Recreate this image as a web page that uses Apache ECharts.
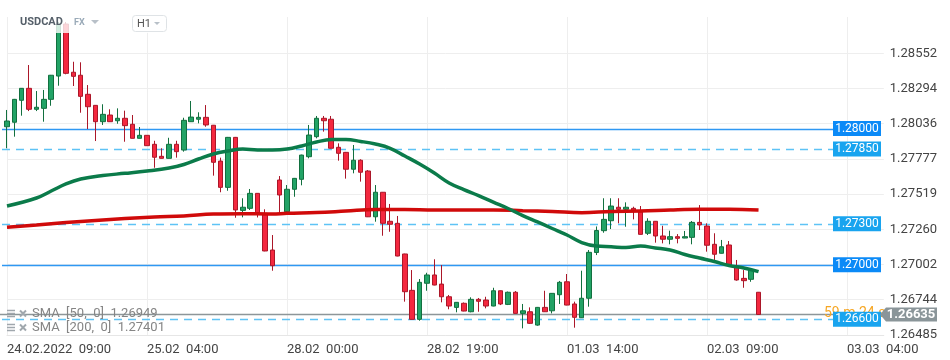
<!DOCTYPE html>
<html><head><meta charset="utf-8">
<script src="https://cdn.jsdelivr.net/npm/echarts@6/dist/echarts.min.js"></script>
<style>html,body{margin:0;padding:0;background:#fff}#c{width:950px;height:360px}</style>
</head><body><div id="c"></div>
<script>
// ---- data ----
const xTickLabels = ['24.02.2022  09:00', '25.02  04:00', '28.02  00:00', '28.02  19:00', '01.03  14:00', '02.03  09:00', '03.03  04:00'];
const candlesPerTick = 19;
const slotCount = 120;
const yTickValues = [1.26485, 1.26744, 1.27002, 1.27260, 1.27519, 1.27777, 1.28036, 1.28294, 1.28552];
// [open, close, low, high]
const candles = [
[1.28013,1.28055,1.27855,1.28136],[1.28046,1.28214,1.27940,1.28217],[1.28207,1.28295,1.28094,1.28297],[1.28295,1.28141,1.28128,1.28466],
[1.28141,1.28156,1.28128,1.28275],[1.28148,1.28214,1.28050,1.28283],[1.28214,1.28391,1.28167,1.28393],[1.28385,1.28767,1.28314,1.28782],
[1.28767,1.28405,1.28398,1.28782],[1.28413,1.28383,1.28312,1.28490],[1.28391,1.28236,1.28116,1.28486],[1.28251,1.28160,1.27996,1.28319],
[1.28170,1.28050,1.27908,1.28172],[1.28050,1.28104,1.28026,1.28178],[1.28099,1.28050,1.28048,1.28141],[1.28057,1.28075,1.28035,1.28148],
[1.28075,1.28021,1.27903,1.28131],[1.28031,1.27928,1.27927,1.28099],[1.27928,1.27950,1.27927,1.28011],[1.27950,1.27874,1.27872,1.27952],
[1.27884,1.27789,1.27712,1.27910],[1.27796,1.27781,1.27780,1.27855],[1.27781,1.27884,1.27780,1.27932],[1.27884,1.27830,1.27786,1.27910],
[1.27842,1.28060,1.27830,1.28079],[1.28050,1.28084,1.28048,1.28202],[1.28068,1.28082,1.28038,1.28119],[1.28082,1.28026,1.28013,1.28172],
[1.28024,1.27752,1.27654,1.28026],[1.27761,1.27568,1.27532,1.27786],[1.27568,1.27935,1.27543,1.27938],[1.27935,1.27402,1.27345,1.27938],
[1.27399,1.27422,1.27348,1.27488],[1.27414,1.27524,1.27402,1.27556],[1.27524,1.27378,1.27347,1.27526],[1.27378,1.27101,1.27099,1.27407],
[1.27108,1.26993,1.26956,1.27218],[1.27622,1.27512,1.27365,1.27651],[1.27389,1.27554,1.27387,1.27585],[1.27554,1.27634,1.27499,1.27637],
[1.27627,1.27805,1.27583,1.27808],[1.27793,1.27952,1.27781,1.28026],[1.27940,1.28075,1.27928,1.28092],[1.28075,1.28057,1.27977,1.28092],
[1.28068,1.27855,1.27853,1.28092],[1.27862,1.27818,1.27764,1.27891],[1.27825,1.27701,1.27632,1.27828],[1.27701,1.27767,1.27671,1.27879],
[1.27767,1.27679,1.27610,1.27774],[1.27688,1.27352,1.27350,1.27695],[1.27352,1.27532,1.27316,1.27585],[1.27532,1.27304,1.27213,1.27534],
[1.27319,1.27297,1.27242,1.27446],[1.27304,1.27064,1.27062,1.27358],[1.27079,1.26802,1.26729,1.27081],[1.26812,1.26599,1.26598,1.26961],
[1.26599,1.26871,1.26589,1.26895],[1.26864,1.26925,1.26809,1.26941],[1.26925,1.26851,1.26849,1.27040],[1.26858,1.26765,1.26724,1.26998],
[1.26765,1.26697,1.26673,1.26778],[1.26687,1.26724,1.26651,1.26726],[1.26717,1.26660,1.26658,1.26723],[1.26655,1.26746,1.26651,1.26761],
[1.26746,1.26732,1.26655,1.26756],[1.26741,1.26697,1.26680,1.26765],[1.26697,1.26809,1.26695,1.26831],[1.26809,1.26712,1.26704,1.26811],
[1.26709,1.26798,1.26704,1.26803],[1.26798,1.26643,1.26642,1.26807],[1.26643,1.26662,1.26533,1.26712],[1.26655,1.26570,1.26565,1.26687],
[1.26557,1.26687,1.26552,1.26690],[1.26687,1.26655,1.26653,1.26809],[1.26662,1.26790,1.26643,1.26792],[1.26780,1.26871,1.26712,1.26881],
[1.26875,1.26704,1.26702,1.26932],[1.26712,1.26614,1.26538,1.26729],[1.26611,1.26754,1.26609,1.26956],[1.26754,1.27091,1.26692,1.27108],
[1.27090,1.27251,1.27071,1.27281],[1.27250,1.27333,1.27235,1.27488],[1.27323,1.27431,1.27262,1.27488],[1.27422,1.27407,1.27304,1.27488],
[1.27407,1.27422,1.27279,1.27458],[1.27414,1.27397,1.27333,1.27426],[1.27389,1.27223,1.27222,1.27431],[1.27231,1.27319,1.27218,1.27341],
[1.27319,1.27211,1.27162,1.27321],[1.27211,1.27187,1.27157,1.27286],[1.27187,1.27206,1.27150,1.27250],[1.27206,1.27194,1.27157,1.27225],
[1.27196,1.27206,1.27195,1.27248],[1.27201,1.27311,1.27150,1.27321],[1.27311,1.27292,1.27255,1.27438],[1.27284,1.27143,1.27096,1.27304],
[1.27150,1.27077,1.27035,1.27231],[1.27084,1.27132,1.27082,1.27182],[1.27145,1.26998,1.26996,1.27174],[1.26986,1.26888,1.26883,1.27035],
[1.26900,1.26883,1.26831,1.26961],[1.26893,1.26961,1.26875,1.26976],[1.26798,1.26635,1.26633,1.26800]
];
// [candle index, value]
const sma50 = [[0,1.27431],[4,1.27490],[6,1.27541],[8,1.27593],[10,1.27629],[13,1.27655],[16,1.27671],[19,1.27688],[22,1.27710],[24,1.27736],
[26,1.27776],[28,1.27813],[30,1.27835],[32,1.27849],[34,1.27842],[36,1.27842],[38,1.27849],[40,1.27872],[42,1.27901],[44,1.27919],[46,1.27919],
[48,1.27905],[50,1.27886],[52,1.27855],[54,1.27798],[56,1.27739],[58,1.27673],[60,1.27600],[62,1.27552],[64,1.27508],[66,1.27460],[68,1.27413],
[70,1.27361],[72,1.27314],[74,1.27266],[76,1.27218],[78,1.27163],[80,1.27137],[82,1.27132],[84,1.27126],[86,1.27137],[88,1.27123],[90,1.27108],
[92,1.27075],[94,1.27049],[96,1.27024],[98,1.26994],[100,1.26976],[102,1.26949]];
const sma200 = [[0,1.27275],[4,1.27292],[8,1.27310],[12,1.27325],[16,1.27339],[20,1.27350],[24,1.27358],[28,1.27372],[32,1.27375],[36,1.27372],
[38,1.27378],[42,1.27383],[46,1.27394],[50,1.27405],[54,1.27405],[58,1.27402],[62,1.27402],[66,1.27402],[70,1.27397],[74,1.27391],[78,1.27382],
[82,1.27391],[86,1.27394],[90,1.27402],[94,1.27407],[98,1.27407],[102,1.27401]];
const levelValues = [1.28000, 1.27850, 1.27300, 1.27000, 1.26600];
const levelDashed = [false, true, true, false, true];
const lastPrice = 1.26635;
const smaLabels = ['SMA  [50,  0]  1.26949', 'SMA  [200,  0]  1.27401'];
const symbolName = 'USDCAD', marketName = 'FX', periodName = 'H1', countdown = '59 m 24 s';

// ---- chart ----
const categories = Array.from({length: slotCount}, (_, i) => String(i));
const chart = echarts.init(document.getElementById('c'), null, {renderer: 'canvas'});
const FONT = 'Roboto, "Noto Sans", sans-serif';
chart.setOption({
  animation: false,
  backgroundColor: '#fff',
  grid: {left: 7, top: 17, width: 876.8, height: 317.9, containLabel: false},
  xAxis: {
    type: 'category', data: categories, boundaryGap: false,
    axisLine: {lineStyle: {color: '#e6e6e6'}},
    axisTick: {show: false, interval: candlesPerTick - 1},
    axisLabel: {interval: candlesPerTick - 1, align: 'left', color: '#444', fontSize: 13, fontFamily: FONT, margin: 8,
      formatter: (v, i) => (i % candlesPerTick === 0 && xTickLabels[i / candlesPerTick]) ? xTickLabels[i / candlesPerTick] : ''},
    splitLine: {show: true, interval: candlesPerTick - 1, lineStyle: {color: '#eeeeee'}}
  },
  yAxis: {
    type: 'value', position: 'right', min: 1.26485, max: 1.288185, scale: true,
    axisLine: {show: false},
    axisTick: {show: false, customValues: yTickValues},
    axisLabel: {customValues: yTickValues, formatter: v => v.toFixed(5), color: '#444', fontSize: 13, fontFamily: FONT, margin: 6},
    splitLine: {show: true, lineStyle: {color: '#eeeeee'}}
  },
  series: [
    {type: 'candlestick', data: candles, barWidth: 5, clip: false, z: 3,
      itemStyle: {color: '#22a366', color0: '#f4283f', borderColor: '#12703f', borderColor0: '#ab1729', borderWidth: 1}},
    {type: 'line', data: sma200, smooth: 0.4, symbol: 'none', z: 4, lineStyle: {color: '#d00a0a', width: 3.5}},
    {type: 'line', data: sma50, smooth: 0.4, symbol: 'none', z: 5, lineStyle: {color: '#0b7b4a', width: 3.5}}
  ]
});

const yPix = v => chart.convertToPixel({yAxisIndex: 0}, v);
const g = [];
// price level lines
levelValues.forEach((v, k) => {
  const y = Math.round(yPix(v)) + 0.5;
  const style = levelDashed[k]
    ? {stroke: '#5ec3f5', lineWidth: 1.5, lineDash: [8, 6]}
    : {stroke: '#2f98f3', lineWidth: 1.3};
  g.push({type: 'line', z: 1, shape: {x1: 2, y1: y, x2: 833, y2: y}, style: style});
});
// current price line
const yl = yPix(lastPrice);
g.push({type: 'line', z: 1, shape: {x1: 0, y1: yl, x2: 882, y2: yl}, style: {stroke: '#8d9699', lineWidth: 1.5}});
// countdown text (partly behind label box)
g.push({type: 'text', z: 20, x: 824, y: yl - 1, style: {text: countdown, fill: '#f6a623', font: '14px ' + FONT, verticalAlign: 'middle'}});
// level label boxes
levelValues.forEach((v, k) => {
  const y = yPix(v);
  g.push({type: 'rect', z: 30, shape: {x: 833, y: y - 7.5, width: 48, height: 15},
    style: {fill: levelDashed[k] ? '#19a4ef' : '#0b8af7'}});
  g.push({type: 'text', z: 31, x: 857, y: y, style: {text: v.toFixed(5), fill: '#fff', font: '12px ' + FONT, align: 'center', verticalAlign: 'middle'}});
});
// current price box
g.push({type: 'polygon', z: 30, shape: {points: [[880, yl], [886, yl - 7], [937, yl - 7], [937, yl + 7], [886, yl + 7]]}, style: {fill: '#8a9599'}});
g.push({type: 'text', z: 31, x: 911, y: yl, style: {text: lastPrice.toFixed(5), fill: '#fff', font: 'bold 13px ' + FONT, align: 'center', verticalAlign: 'middle'}});
// header overlay
g.push({type: 'rect', z: 40, shape: {x: 12, y: 0, width: 200, height: 33}, style: {fill: 'rgba(255,255,255,0.8)'}});
g.push({type: 'text', z: 41, x: 20, y: 22, style: {text: symbolName, fill: '#56606a', font: 'bold 11px ' + FONT, verticalAlign: 'middle'}});
g.push({type: 'text', z: 41, x: 74, y: 23, style: {text: marketName, fill: '#9aaab8', font: 'bold 9px ' + FONT, verticalAlign: 'middle'}});
g.push({type: 'polygon', z: 41, shape: {points: [[91, 20], [99, 20], [95, 24]]}, style: {fill: '#b8c0c8'}});
g.push({type: 'rect', z: 41, shape: {x: 132.5, y: 15.5, width: 34, height: 16, r: 3}, style: {fill: '#fff', stroke: '#dfe3e6', lineWidth: 1}});
g.push({type: 'text', z: 42, x: 137, y: 24, style: {text: periodName, fill: '#555', font: '11px ' + FONT, verticalAlign: 'middle'}});
g.push({type: 'polygon', z: 42, shape: {points: [[154, 22], [160, 22], [157, 25]]}, style: {fill: '#b8c0c8'}});
// SMA legend rows
smaLabels.forEach((t, k) => {
  const y = 313.5 + k * 14;
  [-3, 0, 3].forEach(d => g.push({type: 'rect', z: 41, shape: {x: 7, y: y + d - 0.75, width: 8, height: 1.5}, style: {fill: '#a0a7ad'}}));
  g.push({type: 'line', z: 41, shape: {x1: 20, y1: y - 3, x2: 26, y2: y + 3}, style: {stroke: '#a0a7ad', lineWidth: 2}});
  g.push({type: 'line', z: 41, shape: {x1: 26, y1: y - 3, x2: 20, y2: y + 3}, style: {stroke: '#a0a7ad', lineWidth: 2}});
  g.push({type: 'text', z: 41, x: 32, y: y, style: {text: t, fill: '#858585', font: '13px ' + FONT, verticalAlign: 'middle'}});
});
chart.setOption({graphic: {elements: g}});
</script>
</body></html>
